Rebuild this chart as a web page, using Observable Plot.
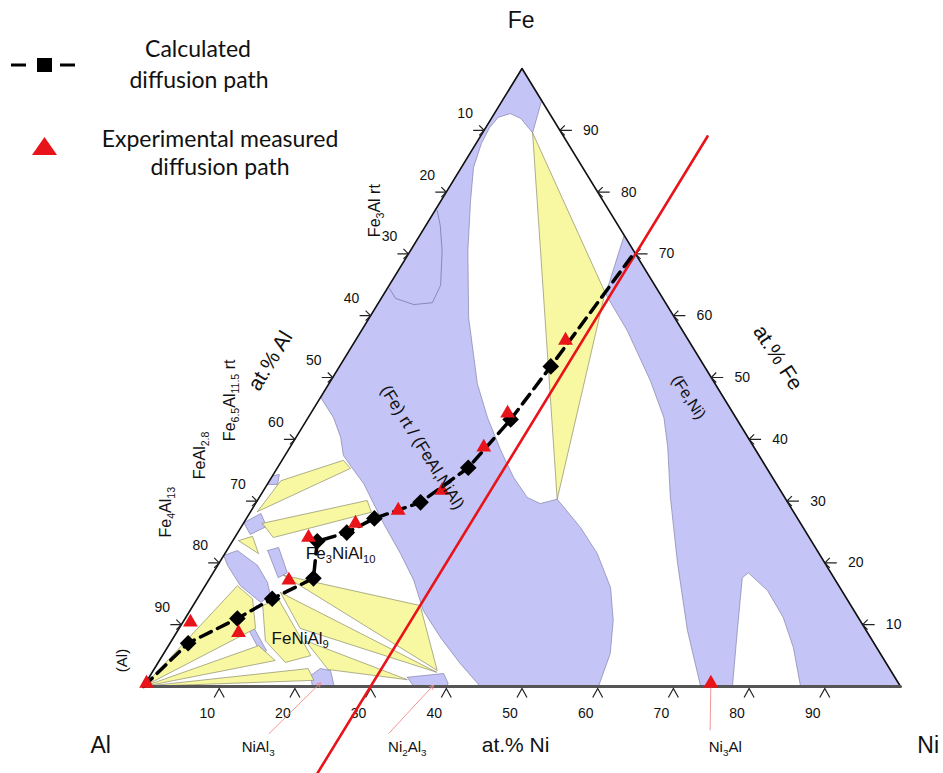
<!DOCTYPE html>
<html><head><meta charset="utf-8">
<script src="https://cdn.jsdelivr.net/npm/d3@7"></script>
<script src="https://cdn.jsdelivr.net/npm/@observablehq/plot@0.6"></script>
<style>
body{margin:0;background:#fff;}
#wrap{position:relative;width:943px;height:773px;overflow:hidden;}
#legend{position:absolute;left:0;top:0;}
</style></head>
<body><div id="wrap"><div id="chart"></div>
<svg id="legend" width="370" height="190" font-family="Lato, 'Open Sans', sans-serif" font-size="23" fill="#111">
<line x1="11" y1="65" x2="26" y2="65" stroke="#000" stroke-width="3"/>
<rect x="37" y="58" width="15" height="14" fill="#000"/>
<line x1="60" y1="65" x2="75" y2="65" stroke="#000" stroke-width="3"/>
<polygon points="32,155 57,155 44.5,137" fill="#e8141a"/>
<text x="198" y="57" text-anchor="middle">Calculated</text>
<text x="199" y="88" text-anchor="middle">diffusion path</text>
<text x="220" y="147" text-anchor="middle">Experimental measured</text>
<text x="220" y="175" text-anchor="middle">diffusion path</text>
</svg>
</div>
<script>
// ---------- data: compositions as [at.% Ni, at.% Fe] ----------
const tickValues = [10,20,30,40,50,60,70,80,90];

const calcNi = [0, 2.4, 6.9, 9.9, 13.7, 11.2, 14.4, 16.9, 21.7, 25.2, 26.9, 27.9, 29.7];
const calcFe = [0, 7.0, 11.0, 14.2, 17.5, 23.5, 24.9, 27.2, 29.8, 35.4, 43.2, 51.8, 69.7];

const expNi = [0.15, 1.0, 8.2, 10.6, 9.75, 14.8, 19.4, 23.6, 25.6, 26.0, 27.75];
const expFe = [0.5, 10.4, 8.7, 17.2, 24.1, 26.4, 28.5, 31.7, 38.7, 44.2, 56.0];

const redLineNi = 30;
const redLineFe = [-14, 89];

// single-phase regions (lavender)
const lavFeAl = [[0,100],[5.2,94.8],[6.6,89.6],[3.9,91.9],[2.1,92.7],[0.8,92.1],[0.5,90.4],[0.7,87.9],[1.6,84.0],[3.9,78.6],[7.6,70.5],[13.1,59.7],[19.6,49.0],[23.7,43.5],[28.1,38.2],[32.0,33.8],[35.4,30.6],[37.6,29.6],[39.5,30.3],[44.9,25.7],[49.2,21.5],[53.7,16.0],[56.7,10.7],[59.0,5.3],[60.1,0],[44.5,0],[40.0,3.7],[35.3,7.9],[30.8,12.3],[27.1,17.2],[23.2,21.5],[18.5,26.4],[12.7,32.8],[9.95,35.3],[7.7,37.4],[5.9,40.3],[3.35,43.5],[0,46.8]];
const lavFeNi = [[27,73],[29.3,63.5],[35.1,57.6],[42.2,49.5],[47.0,43.5],[49.9,38.7],[54.3,30.6],[60.6,19.9],[67.3,9.1],[73.6,0],[77.8,0],[73.9,9.1],[70.3,17.6],[70.7,18.4],[74.7,15.5],[78.9,11.2],[82.7,6.3],[86.8,0],[100,0]];
const lavSmall1 = [[0,34.1],[0.8,34.3],[1.35,32.7],[0,32.7]];
const lavSmall2 = [[0,26.5],[1.5,28.0],[3.3,25.9],[1.8,24.6]];
const lavStrip = [[5.4,22.0],[6.6,22.5],[9.8,18.4],[9.0,17.6]];
const lavBlob = [[0,21.2],[1.4,22.0],[5.25,19.6],[8.0,16.8],[9.4,14.7],[8.7,13.6],[4.65,16.3],[1.3,19.6]];
const lavSliver = [[9.0,9.5],[9.45,9.9],[13.35,5.8],[13.0,5.2]];
const lavNiAl3 = [[21.2,1.8],[21.9,2.9],[23.4,2.6],[25.2,0],[22.3,0]];
const lavNi2Al3 = [[34.1,1.5],[38.6,2.1],[40.0,0.5],[40.0,0],[35.7,0]];

// three-phase triangles (yellow)
const yelTop = [[6.6,89.6],[29.1,63.75],[39.5,30.3]];
const yel1 = [[0.9,28.3],[1.5,33.3],[8.1,36.6],[9.7,35.3]];
const yel2 = [[2.5,26.4],[14.5,30.1],[16.0,28.2],[5.1,24.1]];
const yel3 = [[0.75,23.6],[2.25,24.3],[4.45,21.5]];
const yel5 = [[0,0],[4.25,16.3],[7.3,14.2],[10.1,9.4]];
const yel6 = [[0,0],[11.9,6.6],[15.3,4.2]];
const yel7 = [[0,0],[20.3,2.9],[22.0,1.0]];
const yel8 = [[9.2,13.1],[10.7,14.2],[19.6,5.0],[16.8,3.9],[12.4,7.4]];
const yel9 = [[9.5,18.0],[30.0,13.1],[37.5,2.6]];
const yel10 = [[10.5,15.2],[37.6,2.3],[16.0,9.4]];
const yel11 = [[23.0,2.75],[34.3,1.1],[17.7,7.4]];

// Fe3Al boundary curve inside the bcc field
const fe3AlArc = [[0.3,64.4],[1.9,62.8],[4.8,61.8],[7.1,62.1],[6.8,64.9],[4.2,70.5],[1.9,74.6],[0.3,77.0]];

// labels
const labelText  = ["(Fe) rt / (FeAl,NiAl)", "(Fe,Ni)", "Fe_{3}Al rt", "Fe_{6.5}Al_{11.5} rt", "FeAl_{2.8}", "Fe_{4}Al_{13}", "(Al)", "Fe_{3}NiAl_{10}", "FeNiAl_{9}"];
const labelNi    = [17.5, 48.6, -7.9, -11.7, -11.2, -11.2, -4.9, 15.3, 16.8];
const labelFe    = [38.7, 46.8, 77.0, 46.3, 37.4, 28.2, 4.2, 21.5, 7.8];
const labelAngle = [58, 57, -90, -90, -90, -90, -90, 0, 0];
const labelSize  = [17, 16, 16, 16, 16, 16, 15, 17, 17];

const titleText  = ["Fe", "Al", "Ni", "at.% Ni", "at.% Al", "at.% Fe"];
const titleNi    = [-4.0, -0.9, 108.4, 53.9, -9.6, 57.2];
const titleFe    = [107.8, -9.5, -9.5, -9.5, 52.7, 53.2];
const titleAngle = [0, 0, 0, 0, -58.5, 57];

const phaseNoteText = ["NiAl_{3}", "Ni_{2}Al_{3}", "Ni_{3}Al"];
const phaseNoteNi   = [20.1, 39.8, 81.8];
const phaseNoteFe   = [-9.9, -9.9, -9.9];
const arrowFrom = [[20.4,-7.6],[36.2,-7.6]];
const arrowTo   = [[23.1,0.6],[38.2,0.2]];
const ni3AlFrom = [78.4,-7.1];
const ni3AlMark = [74.7,0.5];

// ---------- helpers ----------
const P = (ni, fe) => ({x: ni + fe / 2, y: fe});
function polyRows(entries){
  const rows = [];
  for (const [id, pts] of entries) {
    for (const [ni, fe] of [...pts, pts[0]]) rows.push({id, ...P(ni, fe)});
  }
  return rows;
}
const lavRows = polyRows([["feal",lavFeAl],["feni",lavFeNi],["s1",lavSmall1],["s2",lavSmall2],["strip",lavStrip],["blob",lavBlob],["sliver",lavSliver],["nial3",lavNiAl3],["ni2al3",lavNi2Al3]]);
const yelRows = polyRows([["top",yelTop],["y1",yel1],["y2",yel2],["y3",yel3],["y5",yel5],["y6",yel6],["y7",yel7],["y8",yel8],["y9",yel9],["y10",yel10],["y11",yel11]]);
const arcRows = fe3AlArc.map(([n,f]) => P(n,f));
const calcRows = calcNi.map((n,i) => P(n, calcFe[i]));
const calcMarkers = calcRows.slice(1, calcRows.length - 1);
const expRows = expNi.map((n,i) => P(n, expFe[i]));
const bottomTicks = tickValues.map(v => ({...P(v,0), v}));
const leftTicks = tickValues.map(v => ({...P(0,100-v), v}));
const rightTicks = tickValues.map(v => ({...P(100-v,v), v}));
const labels = labelText.map((t,i) => ({t, ...P(labelNi[i], labelFe[i]), a: labelAngle[i], s: labelSize[i]}));
const titles = titleText.map((t,i) => ({t, ...P(titleNi[i], titleFe[i]), a: titleAngle[i]}));
const notes = phaseNoteText.map((t,i) => ({t, ...P(phaseNoteNi[i], phaseNoteFe[i])}));
const arrows = arrowFrom.map((f,i) => {const a = P(...f), b = P(...arrowTo[i]); return {x1:a.x,y1:a.y,x2:b.x,y2:b.y};});
const ni3A = P(...ni3AlFrom), ni3B = P(...ni3AlMark);

const caretSym = {draw(c){c.moveTo(-5,11);c.lineTo(0,2);c.lineTo(5,11);}};
const leftSym  = {draw(c){c.moveTo(-11,0);c.lineTo(0,0);c.moveTo(-5,-5);c.lineTo(0,0);c.lineTo(-5,5);}};
const rightSym = {draw(c){c.moveTo(12,0);c.lineTo(0,0);c.moveTo(5,-5);c.lineTo(0,0);c.lineTo(5,5);}};

const LAV = "#c4c4f6", YEL = "#f8f8a2", RED = "#e8141a";

const svg = Plot.plot({
  width: 943, height: 773,
  x: {domain:[0,100], range:[143,900], axis:null},
  y: {domain:[0,100], range:[686,68], axis:null},
  style: {fontFamily: "'Liberation Sans', Arial, sans-serif", background: "transparent", color: "#111"},
  marks: [
    Plot.line(lavRows, {x:"x", y:"y", z:"id", fill:LAV, stroke:"#8282aa", strokeWidth:0.7}),
    Plot.line(yelRows, {x:"x", y:"y", z:"id", fill:YEL, stroke:"#8c8c6a", strokeWidth:0.7}),
    Plot.line(arcRows, {x:"x", y:"y", stroke:"#7a7aa6", strokeWidth:0.8}),
    Plot.line([P(0,0),P(0,100),P(100,0)], {x:"x", y:"y", stroke:"#111", strokeWidth:1.6}),
    Plot.line([P(0,0),P(100,0)], {x:"x", y:"y", stroke:"#555", strokeWidth:3}),
    Plot.dot(bottomTicks, {x:"x", y:"y", symbol:caretSym, r:5, fill:"none", stroke:"#222", strokeWidth:1.2}),
    Plot.dot(leftTicks, {x:"x", y:"y", symbol:leftSym, r:5, fill:"none", stroke:"#222", strokeWidth:1.2}),
    Plot.dot(rightTicks, {x:"x", y:"y", symbol:rightSym, r:5, fill:"none", stroke:"#222", strokeWidth:1.2}),
    Plot.text(bottomTicks, {x:"x", y:"y", text:"v", dx:-12, dy:27, fontSize:14}),
    Plot.text(leftTicks, {x:"x", y:"y", text:"v", dx:-19, dy:-17, fontSize:14}),
    Plot.text(rightTicks, {x:"x", y:"y", text:"v", dx:31, dy:0, fontSize:14}),
    Plot.arrow(arrows, {x1:"x1", y1:"y1", x2:"x2", y2:"y2", stroke:"#f28a8a", strokeWidth:0.9, headLength:7}),
    Plot.link([{}], {x1:()=>ni3A.x, y1:()=>ni3A.y, x2:()=>ni3B.x, y2:()=>ni3B.y, stroke:"#f28a8a", strokeWidth:0.9}),
    Plot.dot([ni3B], {x:"x", y:"y", symbol:"triangle", r:5.5, fill:RED}),
    Plot.line([P(redLineNi, redLineFe[0]), P(redLineNi, redLineFe[1])], {x:"x", y:"y", stroke:RED, strokeWidth:2.6}),
    Plot.line(calcRows, {x:"x", y:"y", stroke:"#000", strokeWidth:3.5, strokeDasharray:"12,7"}),
    Plot.dot(calcMarkers, {x:"x", y:"y", symbol:"diamond2", r:7.5, fill:"#000"}),
    Plot.dot(expRows, {x:"x", y:"y", symbol:"triangle", r:5.5, fill:RED}),
    Plot.text(labels, {x:"x", y:"y", text:"t", rotate:"a", fontSize:"s", fill:"#111"}),
    Plot.text(titles.slice(0,3), {x:"x", y:"y", text:"t", fontSize:23}),
    Plot.text(titles.slice(3), {x:"x", y:"y", text:"t", rotate:"a", fontSize:21}),
    Plot.text(notes, {x:"x", y:"y", text:"t", fontSize:15})
  ]
});

// subscripts: turn "_{..}" markup into lowered, smaller tspans
d3.select(svg).selectAll("text").each(function(){
  const s = this.textContent;
  if (!s.includes("_{")) return;
  const parts = s.split(/_\{([^}]*)\}/);
  this.textContent = "";
  let prevSub = false;
  parts.forEach((p, i) => {
    if (!p) return;
    const ts = d3.select(this).append("tspan").text(p);
    if (i % 2 === 1) { ts.attr("font-size","0.66em").attr("dy", prevSub ? 0 : 4); prevSub = true; }
    else { if (prevSub) ts.attr("dy", -4); prevSub = false; }
  });
});

document.getElementById("chart").appendChild(svg);
</script>
</body></html>
